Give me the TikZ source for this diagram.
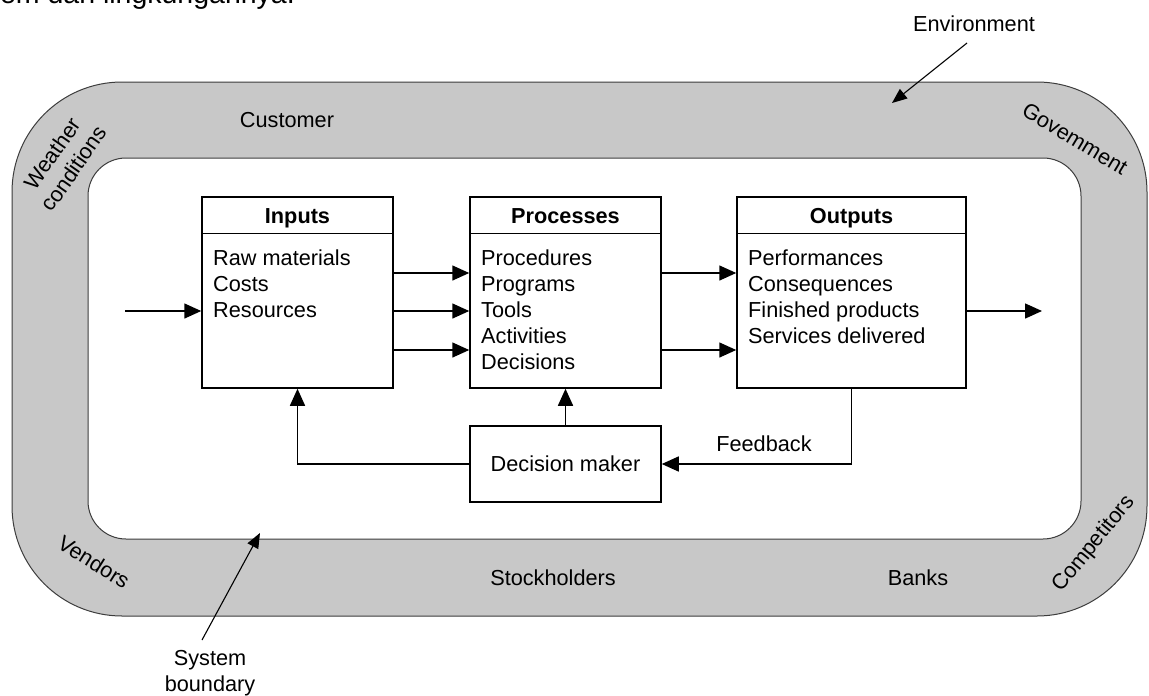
\documentclass[tikz,border=0pt]{standalone}
\usepackage{fontspec}
\setmainfont{Liberation Sans}
\usetikzlibrary{arrows.meta}
\definecolor{bandgray}{RGB}{200,200,200}
\definecolor{edgegray}{RGB}{60,60,60}
\tikzset{
  lbl/.style={font=\fontsize{21.7}{26}\selectfont, inner sep=0pt},
  hdr/.style={font=\fontsize{21.7}{26}\selectfont\bfseries, inner sep=0pt, anchor=base},
  item/.style={font=\fontsize{21.7}{26}\selectfont, inner sep=0pt, anchor=base west},
  box/.style={draw=black, line width=1.5pt, rectangle, inner sep=0pt},
  arr/.style={line width=1.5pt, -{Triangle[length=17pt,width=15pt]}},
  thinarr/.style={line width=1.1pt, -{Triangle[length=15pt,width=12pt]}}
}
\begin{document}
\begin{tikzpicture}[x=1pt,y=-1pt]
\path[use as bounding box] (0,0) rectangle (1149,696);
\begin{scope}
\clip (0,0) rectangle (1149,696);
\node[anchor=base east, inner sep=0pt, font=\fontsize{28.5}{30}\selectfont] (topline) at (295,4) {em dan lingkungannya.};
\end{scope}
% environment band
\draw[fill=bandgray, draw=edgegray, line width=1pt, rounded corners=110pt] (12,82) rectangle (1147,616);
\draw[fill=white, draw=edgegray, line width=1pt, rounded corners=38pt] (88,158) rectangle (1081,539);
% band labels
\node[lbl] (customer) at (287,120) {Customer};
\node[lbl] (stock) at (553,578) {Stockholders};
\node[lbl] (banks) at (918,578) {Banks};
\node[lbl, align=center, rotate=55] (weather) at (63,161) {Weather\\conditions};
\node[lbl, rotate=-31] (govt) at (1075,139) {Govemment};
\node[lbl, rotate=-32] (vendors) at (94,562) {Vendors};
\node[lbl, rotate=51] (compet) at (1094,544) {Competitors};
% boxes
\node[box, minimum width=191pt, minimum height=191pt] (inp) at (297.5,292.5) {};
\node[box, minimum width=191pt, minimum height=191pt] (proc) at (565.5,292.5) {};
\node[box, minimum width=229pt, minimum height=191pt] (outp) at (851.5,292.5) {};
\node[box, minimum width=191pt, minimum height=76pt] (dm) at (565.5,464) {};
\draw[line width=1.5pt] (inp.north west) ++(0,37) coordinate (inpL) -- (inpL -| inp.east);
\draw[line width=1.5pt] (proc.north west) ++(0,37) coordinate (procL) -- (procL -| proc.east);
\draw[line width=1.5pt] (outp.north west) ++(0,37) coordinate (outpL) -- (outpL -| outp.east);
% headers
\node[hdr] (inph) at (297.5,223) {Inputs};
\node[hdr] (proch) at (565.5,223) {Processes};
\node[hdr] (outph) at (851.5,223) {Outputs};
% items
\foreach \t [count=\i] in {Raw materials, Costs, Resources}
  \node[item] (inp-\i) at (213,{265+26*(\i-1)}) {\t};
\foreach \t [count=\i] in {Procedures, Programs, Tools, Activities, Decisions}
  \node[item] (proc-\i) at (481,{265+26*(\i-1)}) {\t};
\foreach \t [count=\i] in {Performances, Consequences, Finished products, Services delivered}
  \node[item] (outp-\i) at (748,{265+26*(\i-1)}) {\t};
\node[lbl, anchor=base] (dmt) at (565.5,471) {Decision maker};
% arrows between boxes
\foreach \yy in {273,311,350}
  \draw[arr] (inp.east |- 0,\yy) -- (proc.west |- 0,\yy);
\foreach \yy in {273,350}
  \draw[arr] (proc.east |- 0,\yy) -- (outp.west |- 0,\yy);
\coordinate (inStart) at (125,311);
\coordinate (outEnd) at (1042,311);
\draw[arr] (inStart) -- (inp.west |- inStart);
\draw[arr] (outp.east |- outEnd) -- (outEnd);
\draw[arr] (dm.north) -- (proc.south);
\draw[arr] (dm.west) -| (inp.south);
\draw[arr] (outp.south) |- (dm.east);
\node[lbl, anchor=base] (fb) at (764,451) {Feedback};
% annotations
\node[lbl, anchor=base] (env) at (974,31) {Environment};
\coordinate (envTip) at (892,103);
\draw[thinarr] (967,43) coordinate (envStart) -- (envTip);
\node[lbl, align=center] (sysb) at (210,673) {System\\boundary};
\coordinate (sysTip) at (260,533);
\draw[thinarr] (202,640) coordinate (sysStart) -- (sysTip);
\end{tikzpicture}
\end{document}
